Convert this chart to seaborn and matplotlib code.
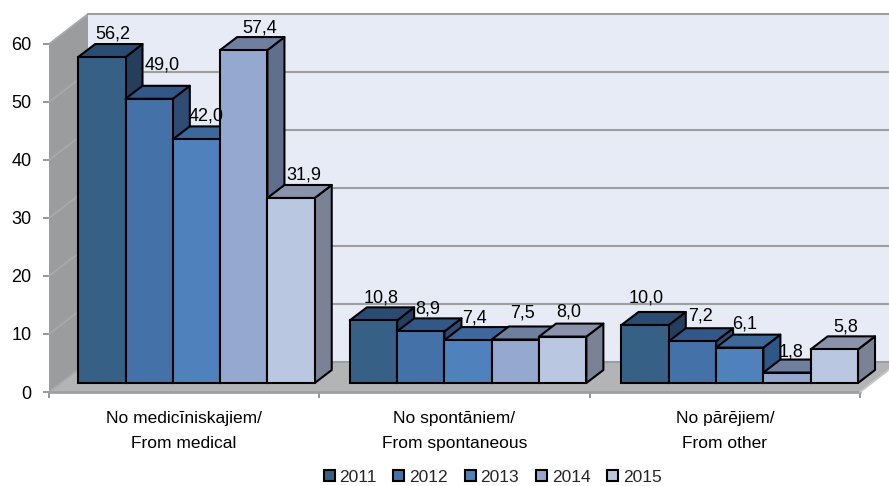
import pandas as pd
import matplotlib
matplotlib.use('Agg')
import matplotlib.pyplot as plt
import seaborn as sns
from matplotlib.patches import Polygon
from matplotlib.transforms import Affine2D

categorias = ['No medicīniskajiem/\nFrom medical', 'No spontāniem/\nFrom spontaneous', 'No pārējiem/\nFrom other']
anos = ['2011', '2012', '2013', '2014', '2015']
v2011 = [56.2, 10.8, 10.0]
v2012 = [49.0, 8.9, 7.2]
v2013 = [42.0, 7.4, 6.1]
v2014 = [57.4, 7.5, 1.8]
v2015 = [31.9, 8.0, 5.8]
y_ticks = [0, 10, 20, 30, 40, 50, 60]

frente = ['#376087', '#4472A8', '#4F81BD', '#95A9D0', '#B9C7E1']
topo = ['#2B4C72', '#32588A', '#3C689C', '#6F7F9E', '#8A93AB']
lado = ['#243F5E', '#2E4C74', '#2F5785', '#5F6F8C', '#7A8296']

# deslocamento dos rotulos em pixels (por ano, por categoria)
rot_dx = [[11, 8, 1], [13, 7, 8], [10, 6, 5], [16, 7, 4], [13, 6, 11]]
rot_dy = [[23, 22, 27], [34, 22, 25], [23, 22, 24], [22, 26, 21], [23, 25, 22]]

linhas = []
for ano, vals in zip(anos, [v2011, v2012, v2013, v2014, v2015]):
    for cat, v in zip(categorias, vals):
        linhas.append({'categoria': cat, 'ano': ano, 'valor': v})
dados = pd.DataFrame(linhas)

sns.set_style('white')
plt.rcParams['font.family'] = ['Liberation Sans', 'DejaVu Sans']

fig = plt.figure(figsize=(8.89, 4.86), dpi=100)
ax = fig.add_axes([49 / 889, (486 - 392) / 486, 811 / 889, 348 / 486])

sns.barplot(data=dados, x='categoria', y='valor', hue='ano', palette=frente, saturation=1,
            width=0.875, gap=0, edgecolor='black', linewidth=1.5, ax=ax)
ax.set_xlim(-0.5, 2.5)
ax.set_ylim(0, 60)

# escala: pixels para unidades de dados
px_x = 3 / 811
px_y = 60 / 348
fundo_x, fundo_y = 39 * px_x, 30 * px_y
base_y = 9 * px_y
prof_x, prof_y = 17 * px_x, 13 * px_y


def poligono(pontos, cor, borda='none', lw=0, z=1):
    ax.add_patch(Polygon(pontos, closed=True, facecolor=cor, edgecolor=borda, linewidth=lw,
                         zorder=z, clip_on=False, joinstyle='round'))


x0, x1 = -0.5, 2.5
poligono([(x0 + fundo_x, fundo_y), (x1 + fundo_x, fundo_y), (x1 + fundo_x, 60 + fundo_y), (x0 + fundo_x, 60 + fundo_y)], '#E6EBF5', z=0.5)
poligono([(x0, 0), (x0 + fundo_x, fundo_y), (x0 + fundo_x, 60 + fundo_y), (x0, 60)], '#9B9C9E', z=0.6)
poligono([(x0, 0), (x1, 0), (x1 + fundo_x, fundo_y), (x0 + fundo_x, fundo_y)], '#B2B4B6', z=0.7)

for t in y_ticks:
    ax.plot([x0, x0 + fundo_x], [t, t + fundo_y], color='#A8A9AB', lw=1.3, zorder=0.8, clip_on=False)
    ax.plot([x0 + fundo_x, x1 + fundo_x], [t + fundo_y, t + fundo_y], color='#9E9E9E', lw=1.5, zorder=0.8, clip_on=False)
ax.plot([x0, x1], [0, 0], color='#9E9E9E', lw=2, zorder=0.9, clip_on=False)
ax.plot([x1, x1 + fundo_x], [0, fundo_y], color='#C8C8C8', lw=1.3, zorder=0.9, clip_on=False)

# faces de cima e do lado, a partir das barras do seaborn
for i, cont in enumerate(ax.containers):
    for j, barra in enumerate(cont):
        x, w, h = barra.get_x(), barra.get_width(), barra.get_height()
        base_x = (12.3 + 1.3 * j) * px_x
        barra.set_transform(Affine2D().translate(base_x, base_y) + ax.transData)
        barra.set_zorder(5 + i)
        barra.set_clip_on(False)
        xa = x + base_x
        xb = xa + w
        ya = base_y
        yb = base_y + h
        poligono([(xb, ya), (xb + prof_x, ya + prof_y), (xb + prof_x, yb + prof_y), (xb, yb)], lado[i], 'black', 1.5, 4.5 + i)
        poligono([(xa, yb), (xa + prof_x, yb + prof_y), (xb + prof_x, yb + prof_y), (xb, yb)], topo[i], 'black', 1.5, 4.6 + i)
        ax.annotate(f'{h:.1f}'.replace('.', ','), xy=(xa + w / 2, yb), xytext=(rot_dx[i][j], rot_dy[i][j]),
                    textcoords='offset pixels', ha='center', va='center', fontsize=13, color='black',
                    zorder=20, annotation_clip=False)

ax.set_xlabel('')
ax.set_ylabel('')
ax.set_yticks(y_ticks)
ax.set_xticks([0, 1, 2])
ax.set_xticklabels(categorias, linespacing=1.85)
ax.set_xticks([-0.5, 0.5, 1.5, 2.5], minor=True)
ax.tick_params(axis='x', which='major', length=0, pad=13.5, labelsize=12.5, colors='black')
ax.tick_params(axis='x', which='minor', length=4, width=1.3, color='#8E8E8E', bottom=True)
ax.tick_params(axis='y', length=4.5, width=1.3, color='#8E8E8E', pad=8, labelsize=13, left=True, labelcolor='black')
for lado_eixo in ax.spines.values():
    lado_eixo.set_visible(False)
ax.patch.set_alpha(0)

sns.move_legend(ax, 'center', bbox_to_anchor=(492.5 / 889, 9 / 486), bbox_transform=fig.transFigure,
                ncol=5, frameon=False, title=None, fontsize=12.5, handlelength=0.634, handleheight=0.634,
                handletextpad=0.29, columnspacing=0.945, borderpad=0, borderaxespad=0)

fig.savefig('out.png', dpi=100)
